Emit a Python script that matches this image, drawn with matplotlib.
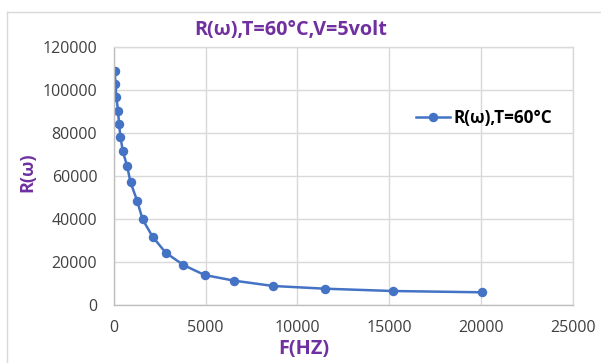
import matplotlib.pyplot as plt
from matplotlib.lines import Line2D

# mesures R(w) a T=60°C, V=5 volt
freq = [40, 80, 130, 220, 275, 350, 480, 715, 900, 1260, 1555, 2100,
        2820, 3785, 4935, 6560, 8680, 11510, 15190, 20050]
resist = [108800, 102800, 96600, 90400, 84200, 78300, 71500, 64600, 57100,
          48500, 39900, 31800, 24300, 18600, 13950, 11300, 8840, 7580,
          6510, 5900]
xticks = [0, 5000, 10000, 15000, 20000, 25000]
yticks = [0, 20000, 40000, 60000, 80000, 100000, 120000]

violet = '#7030a0'
bleu = '#4472c4'
grille = '#d9d9d9'
police = 'Open Sans'

fig = plt.figure(figsize=(6.01, 3.63), dpi=100)
ax = fig.add_axes([114/601, 58/363, 458.7/601, 258/363])

ax.plot(freq, resist, '-o', color=bleu, lw=1.8, ms=5.8,
        label='R(ω),T=60°C')

ax.set_xlim(0, 25000)
ax.set_ylim(0, 120000)
ax.set_xticks(xticks)
ax.set_yticks(yticks)
ax.set_xticklabels([str(t) for t in xticks], fontname=police, fontsize=11.5,
                   color='#404040')
ax.set_yticklabels([str(t) for t in yticks], fontname=police, fontsize=11.5,
                   color='#404040')
ax.tick_params(axis='y', length=0, pad=12)
ax.tick_params(axis='x', length=0, pad=11)
ax.grid(color=grille, lw=1)
ax.set_axisbelow(True)
for s in ax.spines.values():
    s.set_color(grille)
    s.set_linewidth(1)
ax.spines['left'].set_color('#bfbfbf')
ax.spines['bottom'].set_color('#bfbfbf')

fig.text(291/601, 1 - 30/363, 'R(ω),T=60°C,V=5volt', fontname=police,
         fontweight='bold', fontsize=14.3, color=violet, ha='center', va='center')
fig.text(304/601, 1 - 349/363, 'F(HZ)', fontname=police, fontweight='bold',
         fontsize=14.3, color=violet, ha='center', va='center')
fig.text(27/601, 1 - 172/363, 'R(ω)', fontname=police, fontweight='bold',
         fontsize=13, color=violet, ha='center', va='center', rotation=90)

leg = ax.legend(loc='center left', bbox_to_anchor=(407/601, 1 - 118/363),
                bbox_transform=fig.transFigure, frameon=False,
                handlelength=2.0, handletextpad=0.25, borderpad=0,
                prop={'family': police, 'weight': 'bold', 'size': 12.3})

# cadre du graphique
fig.add_artist(Line2D([7/601, 7/601], [0, 1 - 12/363], color=grille, lw=1,
                      transform=fig.transFigure))
fig.add_artist(Line2D([7/601, 1], [1 - 12/363, 1 - 12/363], color=grille, lw=1,
                      transform=fig.transFigure))

fig.savefig('out.png', dpi=100)
